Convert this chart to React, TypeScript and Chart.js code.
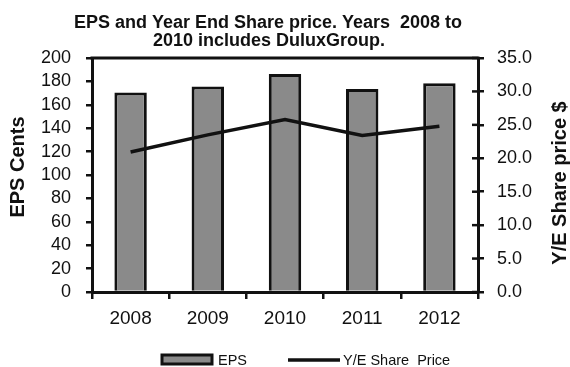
import React, { useEffect, useRef } from "react";
import { Chart, registerables } from "chart.js";

Chart.register(...registerables);

const years = ["2008", "2009", "2010", "2011", "2012"];
const epsCents = [170.6, 175.7, 186.4, 173.6, 178.5];
const sharePrice = [20.95, 23.5, 25.8, 23.4, 24.8];
const titleLines = ["EPS and Year End Share price. Years  2008 to", "2010 includes DuluxGroup."];
const leftTitle = "EPS Cents";
const rightTitle = "Y/E Share price $";
const epsLabel = "EPS";
const priceLabel = "Y/E Share  Price";

const INK = "#111111";
const BAR_FILL = "#8a8a8a";
const FONT = "'Liberation Sans', Arial, sans-serif";

const decorPlugin = {
  id: "decor",
  afterDraw(chart: any) {
    const ctx = chart.ctx as CanvasRenderingContext2D;
    const { left, right, top } = chart.chartArea;
    ctx.save();
    ctx.strokeStyle = INK;
    ctx.lineWidth = 3;
    ctx.beginPath();
    ctx.moveTo(left - 1.5, top);
    ctx.lineTo(right + 1.5, top);
    ctx.stroke();
    const y1 = chart.scales.y1;
    ctx.lineWidth = 2.5;
    y1.ticks.forEach((t: any) => {
      const py = y1.getPixelForValue(t.value);
      ctx.beginPath();
      ctx.moveTo(right - 6, py);
      ctx.lineTo(right, py);
      ctx.stroke();
    });
    ctx.fillStyle = INK;
    ctx.textAlign = "center";
    ctx.textBaseline = "alphabetic";
    ctx.font = `bold 18px ${FONT}`;
    ctx.fillText(titleLines[0], 268, 28);
    ctx.fillText(titleLines[1], 269, 46);
    ctx.font = `bold 20px ${FONT}`;
    ctx.textBaseline = "middle";
    ctx.save();
    ctx.translate(18, 167);
    ctx.rotate(-Math.PI / 2);
    ctx.fillText(leftTitle, 0, 0);
    ctx.restore();
    ctx.save();
    ctx.translate(560, 183);
    ctx.rotate(-Math.PI / 2);
    ctx.fillText(rightTitle, 0, 0);
    ctx.restore();
    const ds = chart.data.datasets;
    const ly = 360;
    ctx.fillStyle = ds[1].backgroundColor;
    ctx.strokeStyle = INK;
    ctx.lineWidth = 3;
    ctx.fillRect(162, ly - 5, 50, 9);
    ctx.strokeRect(162, ly - 5, 50, 9);
    ctx.fillStyle = INK;
    ctx.font = `14.5px ${FONT}`;
    ctx.textAlign = "left";
    ctx.fillText(ds[1].label, 218, ly + 1);
    ctx.lineWidth = 3.5;
    ctx.beginPath();
    ctx.moveTo(288, ly);
    ctx.lineTo(340, ly);
    ctx.stroke();
    ctx.fillText(ds[0].label, 343, ly + 1);
    ctx.restore();
  },
};

export default function App() {
  const ref = useRef<HTMLCanvasElement>(null);
  useEffect(() => {
    if (!ref.current) return;
    const chart = new Chart(ref.current, {
      type: "bar",
      data: {
        labels: years,
        datasets: [
          {
            type: "line",
            label: priceLabel,
            data: sharePrice,
            yAxisID: "y1",
            borderColor: INK,
            borderWidth: 3.5,
            pointRadius: 0,
            tension: 0,
            order: 0,
          } as any,
          {
            type: "bar",
            label: epsLabel,
            data: epsCents,
            yAxisID: "y",
            backgroundColor: BAR_FILL,
            borderColor: INK,
            borderWidth: 3,
            barPercentage: 0.42,
            categoryPercentage: 1,
            order: 1,
          },
        ],
      },
      options: {
        responsive: false,
        animation: false,
        layout: { padding: { top: 58, left: 0, right: 0, bottom: 0 } },
        plugins: { legend: { display: false }, title: { display: false }, tooltip: { enabled: false } },
        scales: {
          x: {
            grid: { offset: true, drawOnChartArea: false, color: INK, lineWidth: 2.5, tickLength: 7 },
            border: { color: INK, width: 3 },
            ticks: { color: INK, font: { family: FONT, size: 19 }, padding: 8, maxRotation: 0 },
            afterFit: (s: any) => { s.height = 75; },
          },
          y: {
            position: "left",
            min: 0,
            max: 200,
            grid: { drawOnChartArea: false, color: INK, lineWidth: 2.5, tickLength: 6 },
            border: { color: INK, width: 3 },
            ticks: { stepSize: 20, autoSkip: false, color: INK, font: { family: FONT, size: 18 }, padding: 15 },
            afterFit: (s: any) => { s.width = 92; },
          },
          y1: {
            position: "right",
            min: 0,
            max: 35,
            grid: { drawOnChartArea: false, color: INK, lineWidth: 2.5, tickLength: 6 },
            border: { color: INK, width: 3 },
            ticks: { stepSize: 5, autoSkip: false, color: INK, font: { family: FONT, size: 18 }, padding: 13, callback: (v: any) => Number(v).toFixed(1) },
            afterFit: (s: any) => { s.width = 92; },
          },
        },
      },
      plugins: [decorPlugin],
    });
    return () => chart.destroy();
  }, []);
  return (
    <div style={{ position: "fixed", left: 0, top: 0, width: 570, height: 367, background: "#fff" }}>
      <canvas ref={ref} width={570} height={367} />
    </div>
  );
}
